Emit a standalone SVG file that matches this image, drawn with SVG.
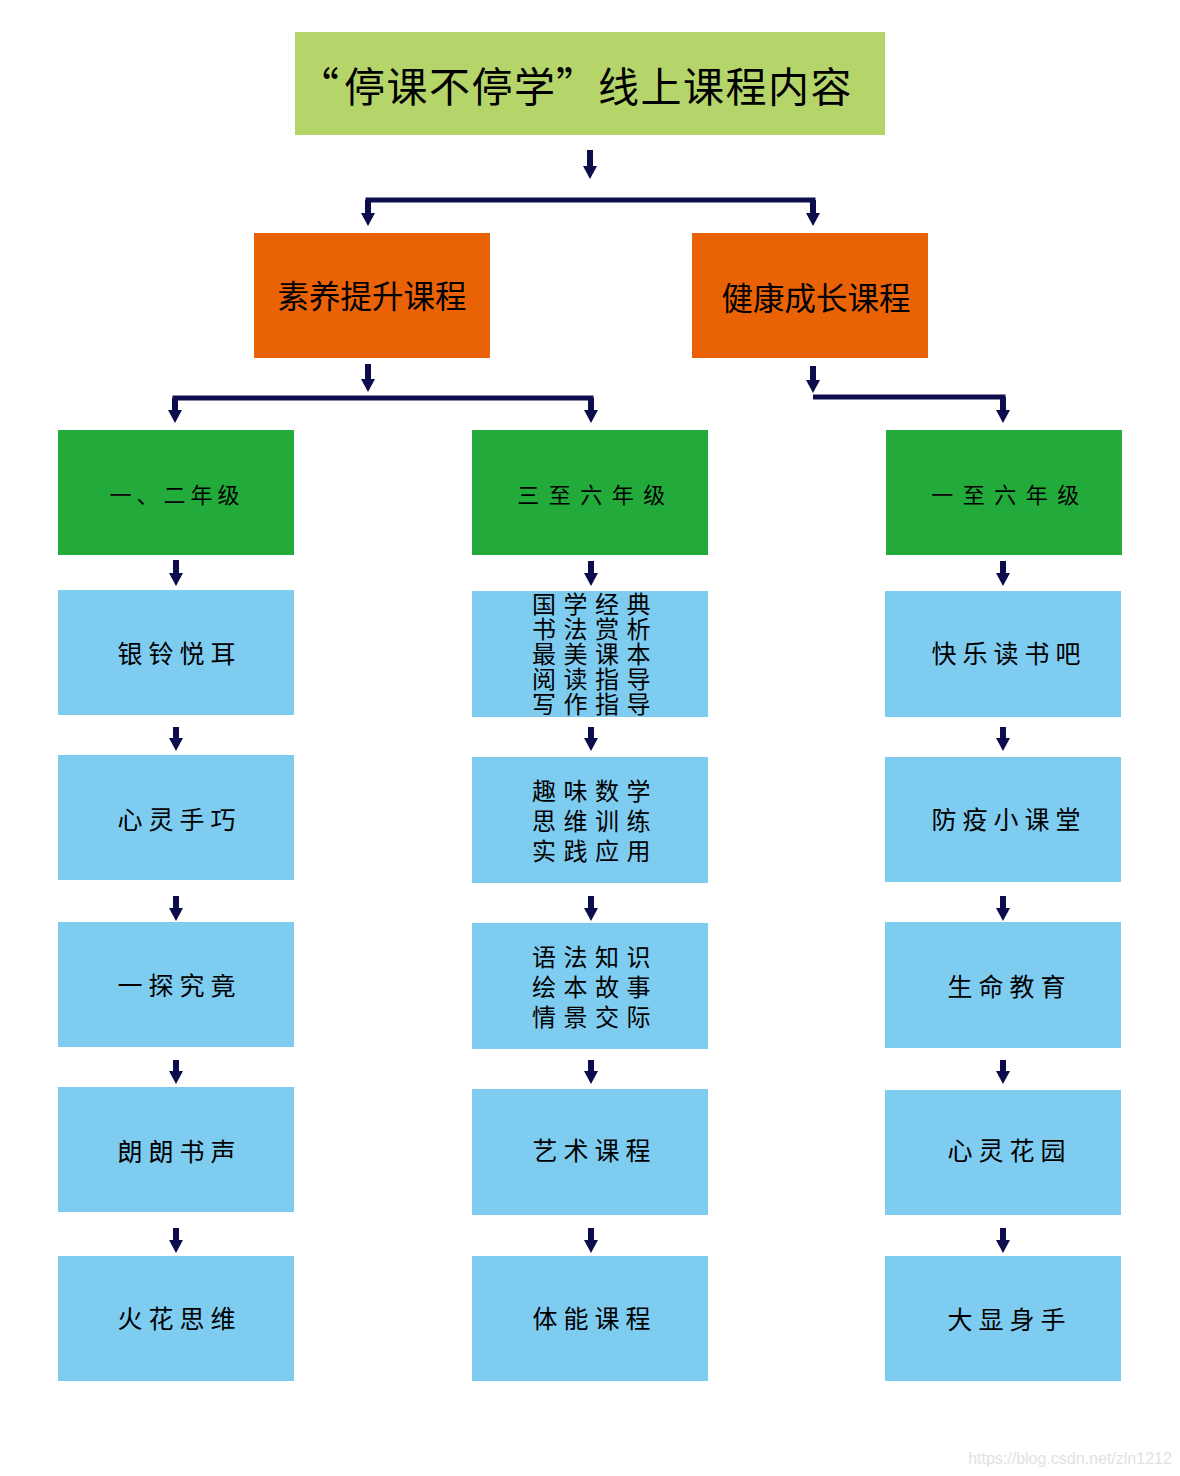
<svg xmlns="http://www.w3.org/2000/svg" width="1180" height="1476" viewBox="0 0 1180 1476">
<style>
text{font-family:"Noto Sans CJK SC","Liberation Sans",sans-serif;fill:#000;text-anchor:middle;dominant-baseline:central}
.t{font-size:41px;letter-spacing:1.5px;text-anchor:start}
.o{fill:#ea6206}
.ot{font-size:31.5px}
.g{fill:#22ab3b}
.gt{font-size:22px;letter-spacing:5px}
.gt2{font-size:22px;letter-spacing:9.5px}
.b{fill:#7fccf1}
.bt{font-size:25px;letter-spacing:6px}
.mt{font-size:24px;letter-spacing:7.5px}
.c{stroke:#0d0d4d;stroke-width:5;fill:none}
.a{stroke:#0d0d4d;stroke-width:6;fill:none;marker-end:url(#ah)}
</style>
<defs>
<marker id="ah" markerUnits="userSpaceOnUse" viewBox="0 -7 13 14" markerWidth="13" markerHeight="14" refX="0" refY="0" orient="auto">
<path d="M0,-7 L13,0 L0,7 Z" fill="#0d0d4d"/>
</marker>
</defs>
<rect width="1180" height="1476" fill="#fff"/>

<g id="title"><rect x="295" y="32" width="590" height="103" fill="#b5d56b"/><text class="t" y="84"><tspan x="298">“</tspan><tspan x="344">停课不停学</tspan><tspan x="556">”</tspan><tspan x="598">线上课程内容</tspan></text></g>

<g id="suyang"><rect class="o" x="254" y="233" width="236" height="125"/><text class="ot" x="372" y="294">素养提升课程</text></g>
<g id="jiankang"><rect class="o" x="692" y="233" width="236" height="125"/><text class="ot" x="816" y="296">健康成长课程</text></g>

<g id="g12"><rect class="g" x="58" y="430" width="236" height="125"/><text class="gt" x="177" y="493">一、二年级</text></g>
<g id="g36"><rect class="g" x="472" y="430" width="236" height="125"/><text class="gt2" x="596" y="493">三至六年级</text></g>
<g id="g16"><rect class="g" x="886" y="430" width="236" height="125"/><text class="gt2" x="1010" y="493">一至六年级</text></g>

<g id="l1"><rect class="b" x="58" y="590" width="236" height="125"/><text class="bt" x="179.5" y="652">银铃悦耳</text></g>
<g id="l2"><rect class="b" x="58" y="755" width="236" height="125"/><text class="bt" x="179.5" y="818">心灵手巧</text></g>
<g id="l3"><rect class="b" x="58" y="922" width="236" height="125"/><text class="bt" x="179.5" y="984">一探究竟</text></g>
<g id="l4"><rect class="b" x="58" y="1087" width="236" height="125"/><text class="bt" x="179.5" y="1150">朗朗书声</text></g>
<g id="l5"><rect class="b" x="58" y="1256" width="236" height="125"/><text class="bt" x="179.5" y="1317">火花思维</text></g>

<g id="m1"><rect class="b" x="472" y="591" width="236" height="126"/>
<text class="mt" x="595" y="602">国学经典</text>
<text class="mt" x="595" y="627">书法赏析</text>
<text class="mt" x="595" y="652">最美课本</text>
<text class="mt" x="595" y="677">阅读指导</text>
<text class="mt" x="595" y="702">写作指导</text></g>
<g id="m2"><rect class="b" x="472" y="757" width="236" height="126"/>
<text class="mt" x="595" y="789">趣味数学</text>
<text class="mt" x="595" y="819">思维训练</text>
<text class="mt" x="595" y="849">实践应用</text></g>
<g id="m3"><rect class="b" x="472" y="923" width="236" height="126"/>
<text class="mt" x="595" y="955">语法知识</text>
<text class="mt" x="595" y="985">绘本故事</text>
<text class="mt" x="595" y="1015">情景交际</text></g>
<g id="m4"><rect class="b" x="472" y="1089" width="236" height="126"/><text class="bt" x="594.5" y="1149">艺术课程</text></g>
<g id="m5"><rect class="b" x="472" y="1256" width="236" height="125"/><text class="bt" x="594.5" y="1317">体能课程</text></g>

<g id="r1"><rect class="b" x="885" y="591" width="236" height="126"/><text class="bt" x="1009" y="652">快乐读书吧</text></g>
<g id="r2"><rect class="b" x="885" y="757" width="236" height="125"/><text class="bt" x="1009" y="818">防疫小课堂</text></g>
<g id="r3"><rect class="b" x="885" y="922" width="236" height="126"/><text class="bt" x="1009.5" y="985">生命教育</text></g>
<g id="r4"><rect class="b" x="885" y="1090" width="236" height="125"/><text class="bt" x="1009.5" y="1149">心灵花园</text></g>
<g id="r5"><rect class="b" x="885" y="1256" width="236" height="125"/><text class="bt" x="1009.5" y="1318">大显身手</text></g>

<g id="connectors">
<line class="a" x1="590" y1="150" x2="590" y2="166"/>
<polyline class="c" points="368,212 368,200 813,200 813,212"/>
<line class="a" x1="368" y1="200" x2="368" y2="213"/>
<line class="a" x1="813" y1="200" x2="813" y2="213"/>

<line class="a" x1="368" y1="364" x2="368" y2="379"/>
<polyline class="c" points="175,410 175,398 591,398 591,410"/>
<line class="a" x1="175" y1="398" x2="175" y2="410"/>
<line class="a" x1="591" y1="398" x2="591" y2="410"/>

<line class="a" x1="813" y1="366" x2="813" y2="380"/>
<polyline class="c" points="813,397 1003,397 1003,410"/>
<line class="a" x1="1003" y1="397" x2="1003" y2="410"/>

<line class="a" x1="176" y1="560" x2="176" y2="573"/>
<line class="a" x1="176" y1="727" x2="176" y2="738"/>
<line class="a" x1="176" y1="896" x2="176" y2="908"/>
<line class="a" x1="176" y1="1060" x2="176" y2="1071"/>
<line class="a" x1="176" y1="1228" x2="176" y2="1240"/>

<line class="a" x1="591" y1="561" x2="591" y2="573"/>
<line class="a" x1="591" y1="727" x2="591" y2="738"/>
<line class="a" x1="591" y1="896" x2="591" y2="908"/>
<line class="a" x1="591" y1="1060" x2="591" y2="1071"/>
<line class="a" x1="591" y1="1228" x2="591" y2="1240"/>

<line class="a" x1="1003" y1="561" x2="1003" y2="573"/>
<line class="a" x1="1003" y1="727" x2="1003" y2="738"/>
<line class="a" x1="1003" y1="896" x2="1003" y2="908"/>
<line class="a" x1="1003" y1="1060" x2="1003" y2="1071"/>
<line class="a" x1="1003" y1="1228" x2="1003" y2="1240"/>
</g>

<text x="1070" y="1458" style="font-family:'Liberation Sans',sans-serif;font-size:16px;fill:#e2e2e2">https://blog.csdn.net/zln1212</text>
</svg>
